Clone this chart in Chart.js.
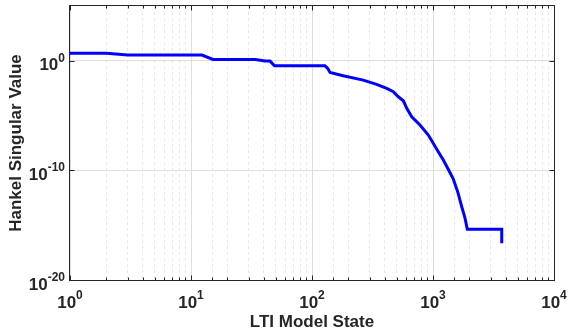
<!DOCTYPE html>
<html>
<head>
<meta charset="utf-8">
<script src="https://cdn.jsdelivr.net/npm/chart.js@4/dist/chart.umd.min.js"></script>
<style>
  html, body { margin: 0; padding: 0; background: #fff; }
</style>
</head>
<body>
<canvas id="hsvChart" width="568" height="336"></canvas>
<script>
// Hankel singular values per retained state of the LTI model
const modelState = [1, 2, 3, 12.3, 15.2, 34, 41, 45, 49, 128, 135, 141, 181, 265, 342, 414, 470, 517, 569, 607, 667, 781, 915, 1106, 1217, 1330, 1472, 1610, 1727, 1837, 1922, 3700, 3700];
const hankelSV = [5.0, 5.0, 3.3, 3.3, 1.34, 1.34, 0.94, 0.94, 0.35, 0.35, 0.2, 0.0875, 0.0429, 0.0174, 7.05e-3, 3.0e-3, 1.5e-3, 5.2e-4, 2.25e-4, 4.6e-5, 7.8e-6, 1.4e-6, 1.7e-7, 5.0e-9, 8.8e-10, 1.4e-10, 1.6e-11, 8.9e-13, 4.9e-14, 4.6e-15, 4.2e-16, 4.2e-16, 2.2e-17];

// decade exponents that get a 10^n label
const xTickExp = [0, 1, 2, 3, 4];
const yTickExp = [-20, -10, 0];

const FONT = '"Liberation Sans", Arial, Helvetica, sans-serif';
const INK = '#262626';

const isDecade = (v) => {
    const l = Math.log10(v);
    return Math.abs(l - Math.round(l)) < 1e-9;
};

// MATLAB-style box: frame, inward ticks and 10^n labels
const axesFrame = {
    id: 'axesFrame',
    afterDraw(chart) {
        const {ctx, chartArea: a, scales: {x, y}} = chart;
        const l = Math.round(a.left) - 0.5;
        const r = Math.round(a.right) + 0.5;
        const t = Math.round(a.top) - 0.5;
        const b = Math.round(a.bottom) + 0.5;

        ctx.save();
        ctx.strokeStyle = INK;
        ctx.lineWidth = 1;
        ctx.strokeRect(l, t, r - l, b - t);

        ctx.beginPath();
        x.ticks.forEach((tk) => {
            const px = Math.round(x.getPixelForValue(tk.value)) + 0.5;
            const len = isDecade(tk.value) ? 5 : 3;
            ctx.moveTo(px, b);
            ctx.lineTo(px, b - len);
            ctx.moveTo(px, t);
            ctx.lineTo(px, t + len);
        });
        y.ticks.forEach((tk) => {
            const py = Math.round(y.getPixelForValue(tk.value)) + 0.5;
            ctx.moveTo(l, py);
            ctx.lineTo(l + 5, py);
            ctx.moveTo(r, py);
            ctx.lineTo(r - 5, py);
        });
        ctx.stroke();

        const baseFont = 'bold 17px ' + FONT;
        const expFont = 'bold 12px ' + FONT;
        ctx.fillStyle = INK;
        ctx.textBaseline = 'alphabetic';
        ctx.textAlign = 'left';

        xTickExp.forEach((e) => {
            const px = x.getPixelForValue(10 ** e);
            ctx.font = baseFont;
            const wb = ctx.measureText('10').width;
            ctx.font = expFont;
            const we = ctx.measureText(String(e)).width;
            const start = px - (wb + we) / 2;
            ctx.font = baseFont;
            ctx.fillText('10', start, 308);
            ctx.font = expFont;
            ctx.fillText(String(e), start + wb, 299);
        });

        yTickExp.forEach((e) => {
            const py = y.getPixelForValue(10 ** e);
            const right = 65;
            ctx.font = expFont;
            const we = ctx.measureText(String(e)).width;
            ctx.font = baseFont;
            const wb = ctx.measureText('10').width;
            ctx.fillText('10', right - we - wb, py + 9.5);
            ctx.font = expFont;
            ctx.fillText(String(e), right - we, py + 1);
        });
        ctx.restore();
    }
};

const points = modelState.map((s, i) => ({x: s, y: hankelSV[i]}));

new Chart(document.getElementById('hsvChart'), {
    type: 'line',
    data: {
        datasets: [{
            data: points,
            borderColor: '#0000ff',
            borderWidth: 3,
            pointRadius: 0,
            tension: 0,
            fill: false
        }]
    },
    options: {
        responsive: false,
        animation: false,
        layout: {padding: {top: 6, right: 14, left: 0, bottom: 0}},
        plugins: {
            legend: {display: false},
            tooltip: {enabled: false}
        },
        scales: {
            x: {
                type: 'logarithmic',
                min: 1,
                max: 10000,
                ticks: {display: false},
                grid: {
                    drawTicks: false,
                    lineWidth: 1,
                    color: (c) => (c.tick && isDecade(c.tick.value)) ? '#dedede' : '#e8e8e8'
                },
                border: {
                    display: false,
                    dash: (c) => (c.tick && isDecade(c.tick.value)) ? [] : [3, 3]
                },
                title: {
                    display: true,
                    text: 'LTI Model State',
                    color: INK,
                    font: {family: FONT, size: 17, weight: 'bold'},
                    padding: {top: 0, bottom: 3}
                },
                afterFit(scale) { scale.height = 56; }
            },
            y: {
                type: 'logarithmic',
                min: 1e-20,
                max: 1e5,
                afterBuildTicks(scale) {
                    scale.ticks = yTickExp.map((e) => ({value: 10 ** e}));
                },
                ticks: {display: false},
                grid: {drawTicks: false, lineWidth: 1, color: '#dedede'},
                border: {display: false},
                title: {
                    display: true,
                    text: 'Hankel Singular Value',
                    color: INK,
                    font: {family: FONT, size: 17, weight: 'bold'},
                    padding: {top: 6, bottom: 0}
                },
                afterFit(scale) { scale.width = 70; }
            }
        }
    },
    plugins: [axesFrame]
});
</script>
</body>
</html>
